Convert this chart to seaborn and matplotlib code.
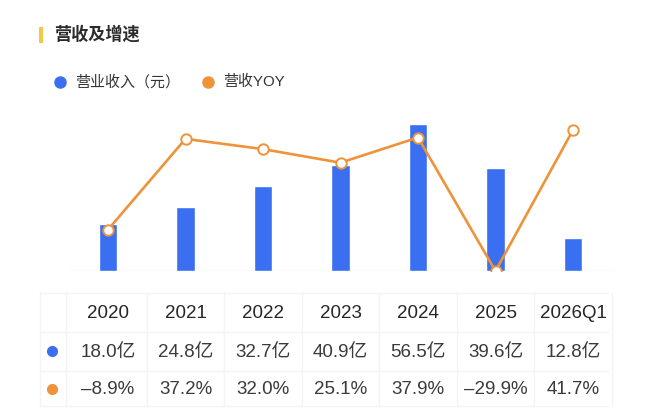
import matplotlib
matplotlib.use("Agg")
import matplotlib.pyplot as plt
import matplotlib.transforms as mtransforms
from matplotlib.lines import Line2D
from matplotlib.patches import Rectangle
import seaborn as sns
import pandas as pd

# ---- data ----
years = ["2020", "2021", "2022", "2023", "2024", "2025", "2026Q1"]
revenue = [18.0, 24.8, 32.7, 40.9, 56.5, 39.6, 12.8]          # 亿元
yoy = [-8.9, 37.2, 32.0, 25.1, 37.9, -29.9, 41.7]             # %
revenue_labels = ["18.0亿", "24.8亿", "32.7亿", "40.9亿", "56.5亿", "39.6亿", "12.8亿"]
yoy_labels = ["–8.9%", "37.2%", "32.0%", "25.1%", "37.9%", "–29.9%", "41.7%"]
title = "营收及增速"
legend_labels = ["营业收入（元）", "营收YOY"]

BLUE = "#3b6ff2"
ORANGE = "#ee9339"
W, H = 650, 420

sns.set_theme(style="white")
plt.rcParams["font.family"] = ["Noto Sans CJK SC", "DejaVu Sans"]
LATIN = ["Liberation Sans", "Noto Sans CJK SC", "DejaVu Sans"]

fig = plt.figure(figsize=(6.5, 4.2), dpi=100)
fig.patch.set_facecolor("white")


def fx(px):
    return px / W


def fy(py):
    return 1 - py / H


# axes: baseline at y=271px, top at 110px; x from 69 to 612 px
left, right, top, base = 69.25, 611.75, 110, 271
ax = fig.add_axes([fx(left), fy(base), (right - left) / W, (base - top) / H])

df = pd.DataFrame({"year": years, "revenue": revenue, "yoy": yoy})
sns.barplot(data=df, x="year", y="revenue", color=BLUE, saturation=1,
            width=0.245, ax=ax, zorder=2)
ax.set_ylim(0, (base - top) / 2.6)

ax2 = ax.twinx()
sns.pointplot(data=df, x="year", y="yoy", ax=ax2, color=ORANGE, errorbar=None,
              markers="o", markersize=7.5, linewidth=1.9,
              markerfacecolor="white", markeredgecolor=ORANGE, markeredgewidth=1.4)
ax2.set_ylim(-29.9, -29.9 + (base - top) / 1.969)

for a in (ax, ax2):
    a.set_xlim(-0.5, 6.5)
    a.set_xlabel("")
    a.set_ylabel("")
    a.set_xticks([])
    a.set_yticks([])
    for s in a.spines.values():
        s.set_visible(False)
    a.patch.set_alpha(0)
ax.axhline(0, color="#e4e4e4", lw=1.0, zorder=1)

# ---- title & legend ----
fig.add_artist(Rectangle((fx(38.5), fy(43)), 4 / W, 16 / H, transform=fig.transFigure,
                         color="#f5c748", lw=0))
fig.text(fx(54), fy(35), title, fontsize=12.3, fontweight="bold", color="#2b2b2b",
         va="center", ha="left")

fig.add_artist(Line2D([fx(60)], [fy(82)], marker="o", markersize=8, color=BLUE,
                      lw=0, transform=fig.transFigure))
fig.text(fx(75), fy(82), legend_labels[0], fontsize=10.8, color="#333333",
         va="center", ha="left", family=LATIN)
fig.add_artist(Line2D([fx(208)], [fy(82)], marker="o", markersize=8, color=ORANGE,
                      lw=0, transform=fig.transFigure))
fig.text(fx(223), fy(82), legend_labels[1], fontsize=10.8, color="#333333",
         va="center", ha="left", family=LATIN)

# ---- table ----
bt = mtransforms.blended_transform_factory(ax.transData, fig.transFigure)
grid_c = "#f4f4f4"
row_lines = [293, 332, 371, 406]
for py in row_lines:
    fig.add_artist(Line2D([fx(40), fx(608)], [fy(py), fy(py)], color=grid_c, lw=1,
                          transform=fig.transFigure))
col_lines_px = [40, 66]
for px in col_lines_px:
    fig.add_artist(Line2D([fx(px), fx(px)], [fy(293), fy(406)], color=grid_c, lw=1,
                          transform=fig.transFigure))
for i in range(len(years)):
    fig.add_artist(Line2D([i + 0.5, i + 0.5], [fy(293), fy(406)], color=grid_c, lw=1,
                          transform=bt))

for i, yr in enumerate(years):
    fig.text(i, fy(314), yr, transform=bt, ha="center", va="center",
             fontsize=13.5, color="#262626", family=LATIN)
    fig.text(i, fy(352), revenue_labels[i], transform=bt, ha="center", va="center",
             fontsize=13.5, color="#3a3a3a", family=LATIN)
    fig.text(i, fy(389), yoy_labels[i], transform=bt, ha="center", va="center",
             fontsize=13.5, color="#3a3a3a", family=LATIN)

fig.add_artist(Line2D([fx(52)], [fy(351)], marker="o", markersize=7, color=BLUE,
                      lw=0, transform=fig.transFigure))
fig.add_artist(Line2D([fx(52)], [fy(389)], marker="o", markersize=7, color=ORANGE,
                      lw=0, transform=fig.transFigure))

fig.savefig("out.png", dpi=100, facecolor="white")
